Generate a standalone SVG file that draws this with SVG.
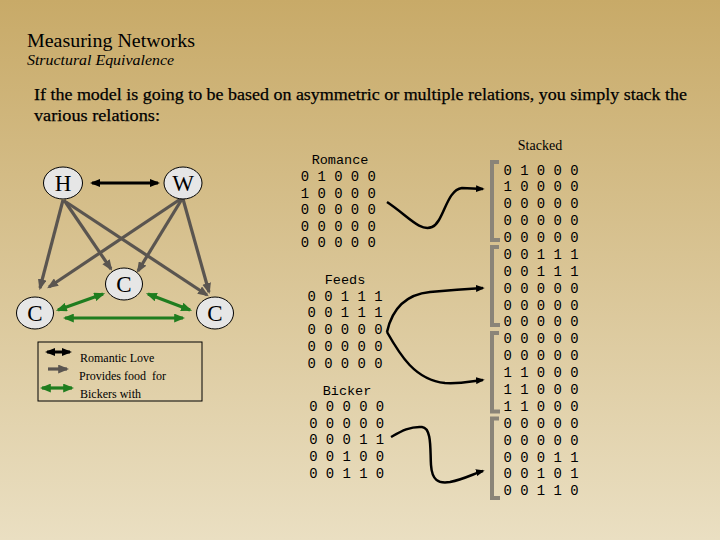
<svg xmlns="http://www.w3.org/2000/svg" width="720" height="540" viewBox="0 0 720 540">
<defs>
<linearGradient id="bg" x1="0" y1="0" x2="0" y2="1">
<stop offset="0" stop-color="#c8aa68"/>
<stop offset="1" stop-color="#eadfc2"/>
</linearGradient>
<marker id="mk" viewBox="0 0 10 8" refX="8" refY="4" markerWidth="10" markerHeight="8" markerUnits="userSpaceOnUse" orient="auto-start-reverse"><path d="M0,0 L10,4 L0,8 z" fill="#000"/></marker>
<marker id="mg" viewBox="0 0 10 8" refX="8" refY="4" markerWidth="11" markerHeight="9" markerUnits="userSpaceOnUse" orient="auto-start-reverse"><path d="M0,0 L10,4 L0,8 z" fill="#5a5550"/></marker>
<marker id="mgr" viewBox="0 0 10 8" refX="8" refY="4" markerWidth="11" markerHeight="9" markerUnits="userSpaceOnUse" orient="auto-start-reverse"><path d="M0,0 L10,4 L0,8 z" fill="#1f7d1f"/></marker>
<marker id="mc" viewBox="0 0 10 8" refX="8" refY="4" markerWidth="9" markerHeight="7" markerUnits="userSpaceOnUse" orient="auto"><path d="M0,0 L10,4 L0,8 z" fill="#000"/></marker>
</defs>
<style>
.serif{font-family:"Liberation Serif","Times New Roman",serif;fill:#000}
.mono{font-family:"Liberation Mono","Courier New",monospace;font-size:13.9px;fill:#000}
.lbl{font-family:"Liberation Mono","Courier New",monospace;font-size:13.5px;fill:#000;text-anchor:middle}
.node ellipse{fill:#e6e6e6;stroke:#000;stroke-width:1}
.node text{font-family:"Liberation Serif","Times New Roman",serif;font-size:23px;text-anchor:middle;fill:#000}
.blk{stroke:#000;stroke-width:3;fill:none}
.gry{stroke:#5a5550;stroke-width:3.2;fill:none}
.grn{stroke:#1f7d1f;stroke-width:3.2;fill:none}
.crv{stroke:#000;stroke-width:2.5;fill:none}
.brk{stroke:#8a8478;stroke-width:4;fill:none}
</style>
<rect width="720" height="540" fill="url(#bg)"/>

<text class="serif" x="27" y="47" font-size="19.5" textLength="168" lengthAdjust="spacingAndGlyphs">Measuring Networks</text>
<text class="serif" x="27" y="65" font-size="14.5" font-style="italic" textLength="147" lengthAdjust="spacingAndGlyphs">Structural Equivalence</text>
<text class="serif" x="34" y="100" font-size="17.5" stroke="#000" stroke-width="0.25" textLength="653" lengthAdjust="spacingAndGlyphs">If the model is going to be based on asymmetric or multiple relations, you simply stack the</text>
<text class="serif" x="34" y="121" font-size="17.5" stroke="#000" stroke-width="0.25" textLength="126" lengthAdjust="spacingAndGlyphs">various relations:</text>

<g id="connectors">
<line class="blk" x1="92" y1="183" x2="158" y2="183" marker-start="url(#mk)" marker-end="url(#mk)"/>
<line class="gry" x1="63" y1="200" x2="40" y2="288" marker-end="url(#mg)"/>
<line class="gry" x1="64" y1="200" x2="111" y2="269" marker-end="url(#mg)"/>
<line class="gry" x1="66" y1="202" x2="207" y2="295" marker-end="url(#mg)"/>
<line class="gry" x1="182" y1="198" x2="49" y2="287" marker-end="url(#mg)"/>
<line class="gry" x1="182" y1="199" x2="138" y2="271" marker-end="url(#mg)"/>
<line class="gry" x1="183" y1="199" x2="209" y2="292" marker-end="url(#mg)"/>
<line class="grn" x1="58" y1="310" x2="103" y2="294" marker-start="url(#mgr)" marker-end="url(#mgr)"/>
<line class="grn" x1="148" y1="294" x2="190" y2="310" marker-start="url(#mgr)" marker-end="url(#mgr)"/>
<line class="grn" x1="65" y1="318" x2="183" y2="318" marker-start="url(#mgr)" marker-end="url(#mgr)"/>

<path class="crv" d="M387,202 C408,216 420,232 432,227 C444,222 446,190 462,188 L483,189" marker-end="url(#mc)"/>
<path class="crv" d="M387,332 C393,305 410,294 430,292 C452,290 466,289 483,288" marker-end="url(#mc)"/>
<path class="crv" d="M387,332 C400,355 415,380 445,383 C462,384 472,381 483,380" marker-end="url(#mc)"/>
<path class="crv" d="M391,437 C400,432 410,426 422,427 C432,428 430,450 431,465 C432,480 438,484 450,482 C465,479 475,473 483,471" marker-end="url(#mc)"/>
</g>

<g id="H" class="node"><ellipse cx="63" cy="183" rx="19.5" ry="16"/><text x="63" y="191">H</text></g>
<g id="W" class="node"><ellipse cx="183" cy="183" rx="19" ry="16"/><text x="183" y="191">W</text></g>
<g id="C-mid" class="node"><ellipse cx="124" cy="284" rx="18.5" ry="16"/><text x="124" y="292">C</text></g>
<g id="C-left" class="node"><ellipse cx="35" cy="313" rx="18.5" ry="16"/><text x="35" y="321">C</text></g>
<g id="C-right" class="node"><ellipse cx="215" cy="313" rx="18.5" ry="16"/><text x="215" y="321">C</text></g>

<g id="legend">
<rect x="38" y="342" width="164" height="59" fill="none" stroke="#000" stroke-width="1"/>
<line class="blk" x1="47" y1="352" x2="70" y2="352" marker-start="url(#mk)" marker-end="url(#mk)"/>
<line class="gry" x1="48" y1="369" x2="67" y2="369" marker-end="url(#mg)"/>
<line class="grn" x1="42" y1="388" x2="72" y2="388" marker-start="url(#mgr)" marker-end="url(#mgr)"/>
<text class="serif" x="80" y="362" font-size="12">Romantic Love</text>
<text class="serif" x="79" y="380" font-size="12" xml:space="preserve">Provides food  for</text>
<text class="serif" x="80" y="398" font-size="12">Bickers with</text>
</g>

<g id="romance">
<text class="lbl" x="340" y="164">Romance</text>
<text class="mono" x="300.8" y="181">0 1 0 0 0</text>
<text class="mono" x="300.8" y="197.5">1 0 0 0 0</text>
<text class="mono" x="300.8" y="214">0 0 0 0 0</text>
<text class="mono" x="300.8" y="230.5">0 0 0 0 0</text>
<text class="mono" x="300.8" y="247">0 0 0 0 0</text>
</g>
<g id="feeds">
<text class="lbl" x="345" y="284">Feeds</text>
<text class="mono" x="307.5" y="300.5">0 0 1 1 1</text>
<text class="mono" x="307.5" y="317">0 0 1 1 1</text>
<text class="mono" x="307.5" y="334">0 0 0 0 0</text>
<text class="mono" x="307.5" y="351">0 0 0 0 0</text>
<text class="mono" x="307.5" y="367.5">0 0 0 0 0</text>
</g>
<g id="bicker">
<text class="lbl" x="347" y="395">Bicker</text>
<text class="mono" x="309.2" y="411">0 0 0 0 0</text>
<text class="mono" x="309.2" y="427.5">0 0 0 0 0</text>
<text class="mono" x="309.2" y="444">0 0 0 1 1</text>
<text class="mono" x="309.2" y="461">0 0 1 0 0</text>
<text class="mono" x="309.2" y="477.5">0 0 1 1 0</text>
</g>

<g id="stacked">
<text class="serif" x="540" y="150" font-size="14" text-anchor="middle">Stacked</text>
<path class="brk" d="M499,162 H492 V240 H500"/>
<path class="brk" d="M499,247 H492 V325 H500"/>
<path class="brk" d="M499,333 H492 V411.5 H500"/>
<path class="brk" d="M499,418.5 H492 V498 H500"/>
<text class="mono" x="503.5" y="174.5">0 1 0 0 0</text>
<text class="mono" x="503.5" y="191.4">1 0 0 0 0</text>
<text class="mono" x="503.5" y="208.3">0 0 0 0 0</text>
<text class="mono" x="503.5" y="225.1">0 0 0 0 0</text>
<text class="mono" x="503.5" y="242">0 0 0 0 0</text>
<text class="mono" x="503.5" y="258.9">0 0 1 1 1</text>
<text class="mono" x="503.5" y="275.8">0 0 1 1 1</text>
<text class="mono" x="503.5" y="292.7">0 0 0 0 0</text>
<text class="mono" x="503.5" y="309.5">0 0 0 0 0</text>
<text class="mono" x="503.5" y="326.4">0 0 0 0 0</text>
<text class="mono" x="503.5" y="343.3">0 0 0 0 0</text>
<text class="mono" x="503.5" y="360.2">0 0 0 0 0</text>
<text class="mono" x="503.5" y="377.1">1 1 0 0 0</text>
<text class="mono" x="503.5" y="394">1 1 0 0 0</text>
<text class="mono" x="503.5" y="410.8">1 1 0 0 0</text>
<text class="mono" x="503.5" y="427.7">0 0 0 0 0</text>
<text class="mono" x="503.5" y="444.6">0 0 0 0 0</text>
<text class="mono" x="503.5" y="461.5">0 0 0 1 1</text>
<text class="mono" x="503.5" y="478.4">0 0 1 0 1</text>
<text class="mono" x="503.5" y="495.3">0 0 1 1 0</text>
</g>
</svg>
